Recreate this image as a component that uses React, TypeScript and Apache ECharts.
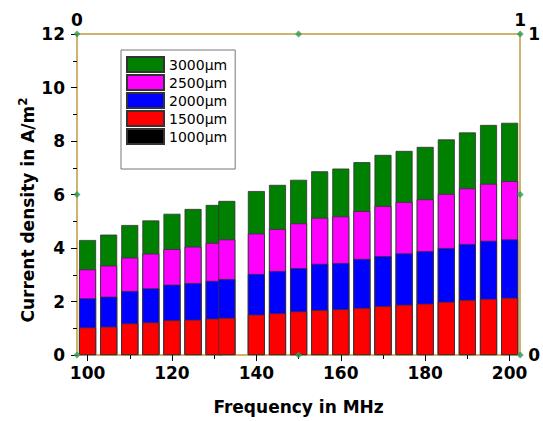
import React, { useEffect, useRef } from "react";
import * as echarts from "echarts";

// Frequencies (MHz) of the bars
const freqs = [100, 105, 110, 115, 120, 125, 130, 133, 140, 145, 150, 155, 160, 165, 170, 175, 180, 185, 190, 195, 200];
// Current density (A/m^2) for each electrode size
const d3000 = [4.30, 4.50, 4.86, 5.03, 5.28, 5.46, 5.61, 5.76, 6.13, 6.36, 6.55, 6.87, 6.97, 7.21, 7.48, 7.63, 7.78, 8.06, 8.32, 8.60, 8.68];
const d2500 = [3.20, 3.34, 3.64, 3.79, 3.96, 4.05, 4.19, 4.32, 4.54, 4.71, 4.92, 5.13, 5.18, 5.38, 5.57, 5.72, 5.82, 6.02, 6.23, 6.40, 6.50];
const d2000 = [2.12, 2.18, 2.39, 2.49, 2.63, 2.69, 2.77, 2.84, 3.03, 3.14, 3.25, 3.41, 3.44, 3.59, 3.70, 3.80, 3.88, 4.00, 4.15, 4.27, 4.32];
const d1500 = [1.03, 1.06, 1.18, 1.22, 1.30, 1.32, 1.36, 1.39, 1.51, 1.56, 1.63, 1.68, 1.71, 1.76, 1.83, 1.88, 1.92, 1.99, 2.06, 2.10, 2.14];
const d1000: number[] = []; // not visible in the chart

const seriesNames = ["3000μm", "2500μm", "2000μm", "1500μm", "1000μm"];
const seriesColors = ["#008000", "#ff00ff", "#0000ff", "#ff0000", "#000000"];

const xMajorTicks = [100, 120, 140, 160, 180, 200];
const xMinorTicks = [110, 130, 150, 170, 190];

// Secondary (top/right) axis decoration markers
const frameMarks = [[0, 0], [0.5, 0], [1, 0], [0, 0.5], [1, 0.5], [0, 1], [0.5, 1], [1, 1]];

const FONT = "DejaVu Sans";
const GOLD = "#c09a3c";

export default function App() {
  const ref = useRef<HTMLDivElement>(null);

  useEffect(() => {
    if (!ref.current) return;
    const chart = echarts.init(ref.current, null, { renderer: "svg" });

    const pair = (arr: number[]) => arr.map((v, i) => [freqs[i], v]);
    const dataSets = [d3000, d2500, d2000, d1500, d1000];

    const barSeries = seriesNames.map((name, i) => ({
      name,
      type: "bar",
      xAxisIndex: 0,
      yAxisIndex: 0,
      barWidth: 17,
      barGap: "-100%",
      data: pair(dataSets[i]),
      itemStyle: { color: seriesColors[i], borderColor: "#333", borderWidth: 0.8 },
      z: 2,
    }));

    const option: any = {
      animation: false,
      backgroundColor: "#ffffff",
      grid: { left: 77, right: 20, top: 34, bottom: 66 },
      legend: {
        data: seriesNames,
        orient: "vertical",
        left: 121,
        top: 50,
        itemWidth: 37,
        itemHeight: 15,
        itemGap: 1,
        padding: [6, 8, 24, 5],
        borderColor: "#777",
        borderWidth: 1,
        icon: "rect",
        textStyle: { fontFamily: FONT, fontSize: 14, color: "#000", lineHeight: 15 },
      },
      xAxis: [
        {
          type: "value",
          position: "bottom",
          min: 97.5,
          max: 202.5,
          name: "Frequency in MHz",
          nameLocation: "middle",
          nameGap: 43,
          nameTextStyle: { fontFamily: FONT, fontSize: 17, fontWeight: "bold", color: "#000" },
          axisLine: { show: true, onZero: false, lineStyle: { color: GOLD, width: 1.5 } },
          axisTick: { show: true, customValues: xMajorTicks, length: 6, lineStyle: { color: "#000" } },
          axisLabel: {
            customValues: xMajorTicks,
            margin: 9,
            fontFamily: FONT,
            fontSize: 17,
            fontWeight: "bold",
            color: "#000",
          },
          splitLine: { show: false },
        },
        {
          type: "value",
          position: "top",
          min: 0,
          max: 1,
          interval: 0.5,
          axisLine: { show: true, onZero: false, lineStyle: { color: GOLD, width: 1.5 } },
          axisTick: { show: false },
          axisLabel: {
            margin: 6,
            fontFamily: FONT,
            fontSize: 17,
            fontWeight: "bold",
            color: "#000",
            formatter: (v: number) => (v === 0 || v === 1 ? String(v) : ""),
          },
          splitLine: { show: false },
        },
        {
          type: "value",
          position: "bottom",
          min: 97.5,
          max: 202.5,
          axisLine: { show: false },
          axisTick: { show: true, customValues: xMinorTicks, length: 4, lineStyle: { color: "#000" } },
          axisLabel: { show: false },
          splitLine: { show: false },
        },
      ],
      yAxis: [
        {
          type: "value",
          position: "left",
          min: 0,
          max: 12,
          interval: 2,
          axisLine: { show: true, onZero: false, lineStyle: { color: GOLD, width: 1.5 } },
          axisTick: { show: true, length: 6, lineStyle: { color: "#000" } },
          minorTick: { show: true, splitNumber: 2, length: 4, lineStyle: { color: "#000" } },
          axisLabel: { margin: 12, fontFamily: FONT, fontSize: 17, fontWeight: "bold", color: "#000" },
          splitLine: { show: false },
        },
        {
          type: "value",
          position: "right",
          min: 0,
          max: 1,
          interval: 0.5,
          axisLine: { show: true, onZero: false, lineStyle: { color: GOLD, width: 1.5 } },
          axisTick: { show: false },
          axisLabel: {
            margin: 8,
            fontFamily: FONT,
            fontSize: 17,
            fontWeight: "bold",
            color: "#000",
            formatter: (v: number) => (v === 0 || v === 1 ? String(v) : ""),
          },
          splitLine: { show: false },
        },
      ],
      graphic: [
        {
          type: "text",
          x: 28,
          y: 210,
          rotation: Math.PI / 2,
          style: {
            text: "{a|Current density in A/m}{b|2}",
            align: "center",
            verticalAlign: "middle",
            fill: "#000",
            rich: {
              a: { fontFamily: FONT, fontSize: 17, fontWeight: "bold", fill: "#000", lineHeight: 22 },
              b: { fontFamily: FONT, fontSize: 12, fontWeight: "bold", fill: "#000", lineHeight: 22, verticalAlign: "top", padding: [0, 0, 8, 0] },
            },
          },
        },
      ],
      series: [
        ...barSeries,
        {
          type: "scatter",
          xAxisIndex: 1,
          yAxisIndex: 1,
          symbol: "diamond",
          symbolSize: 7,
          data: frameMarks,
          itemStyle: { color: "#2e9a5a" },
          z: 5,
          silent: true,
        },
      ],
    };

    chart.setOption(option);
    return () => chart.dispose();
  }, []);

  return (
    <div
      ref={ref}
      style={{ position: "fixed", left: 0, top: 0, width: 543, height: 421, background: "#fff" }}
    />
  );
}
